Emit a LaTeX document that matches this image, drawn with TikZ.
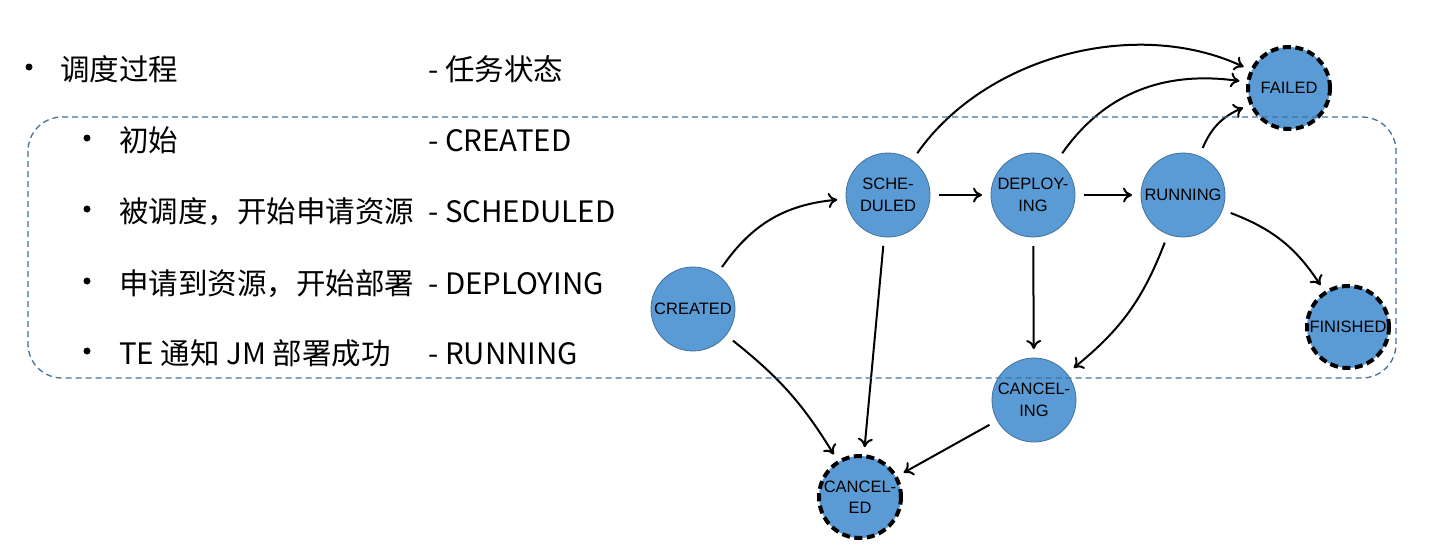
\documentclass[tikz,border=0pt]{standalone}
\usepackage{fontspec}
\newfontfamily\cjkfont{Noto Sans CJK SC}
\newfontfamily\statefont{Liberation Sans}
\usetikzlibrary{arrows.meta}
\definecolor{statefill}{HTML}{5B9BD5}
\definecolor{stateline}{HTML}{41719C}
\definecolor{boxline}{HTML}{41719C}
\begin{document}
\begin{tikzpicture}[x=1pt,y=1pt,
    state/.style={circle,fill=statefill,draw=stateline,line width=0.8pt,minimum size=84pt,inner sep=0pt,outer sep=9pt,align=center,font=\statefont\fontsize{16.5}{21.5}\selectfont},
    final/.style={state,draw=black,line width=4pt,dash pattern=on 8pt off 4.5pt,minimum size=82pt},
    label text/.style={anchor=base west,inner sep=0pt,font=\cjkfont\fontsize{29.5}{32}\selectfont},
    dot/.style={circle,fill=black,inner sep=0pt,minimum size=7pt},
    trans/.style={-{To[length=9pt,width=15pt]},line width=2pt}
  ]
  \useasboundingbox (0,0) rectangle (1436,-550);

  % left column
  \node[dot] (b0) at (29,-67) {};
  \node[label text] (t0) at (60,-80) {调度过程};
  \node[label text] (s0) at (428,-80) {- 任务状态};
  \node[dot] (b1) at (87,-138) {};
  \node[label text] (t1) at (119,-151) {初始};
  \node[label text] (s1) at (428,-151) {- CREATED};
  \node[dot] (b2) at (87,-209) {};
  \node[label text] (t2) at (119,-222) {被调度，开始申请资源};
  \node[label text] (s2) at (428,-222) {- SCHEDULED};
  \node[dot] (b3) at (87,-281) {};
  \node[label text] (t3) at (119,-294) {申请到资源，开始部署};
  \node[label text] (s3) at (428,-294) {- DEPLOYING};
  \node[dot] (b4) at (87,-351) {};
  \node[label text] (t4) at (119,-364) {TE 通知 JM 部署成功};
  \node[label text] (s4) at (428,-364) {- RUNNING};

  % states
  \node[state] (created) at (693,-309) {CREATED};
  \node[state] (scheduled) at (888,-195) {SCHE-\\DULED};
  \node[state] (deploying) at (1033,-195) {DEPLOY-\\ING};
  \node[state] (running) at (1183,-195) {RUNNING};
  \node[final] (failed) at (1289,-88) {FAILED};
  \node[final] (finished) at (1348,-327) {FINISHED};
  \node[state] (canceling) at (1034,-400) {CANCEL-\\ING};
  \node[final] (canceled) at (860,-497) {CANCEL-\\ED};

  \path[trans]
   (created) edge [bend left=25] (scheduled)
   (created) edge [bend left=10] (canceled)
   (scheduled) edge (deploying)
   (scheduled) edge (canceled)
   (scheduled) edge [out=55,in=155,looseness=0.9] (failed)
   (deploying) edge (running)
   (deploying) edge [out=55,in=172] (failed)
   (deploying) edge (canceling)
   (running) edge [bend left=22] (failed)
   (running) edge [bend left=18] (finished)
   (running) edge [bend left=15] (canceling)
   (canceling) edge (canceled);

  % group frame
  \draw[boxline,line width=1.3pt,dash pattern=on 6pt off 4pt,rounded corners=34pt]
   (28,-117) rectangle (1396,-378);
\end{tikzpicture}
\end{document}
